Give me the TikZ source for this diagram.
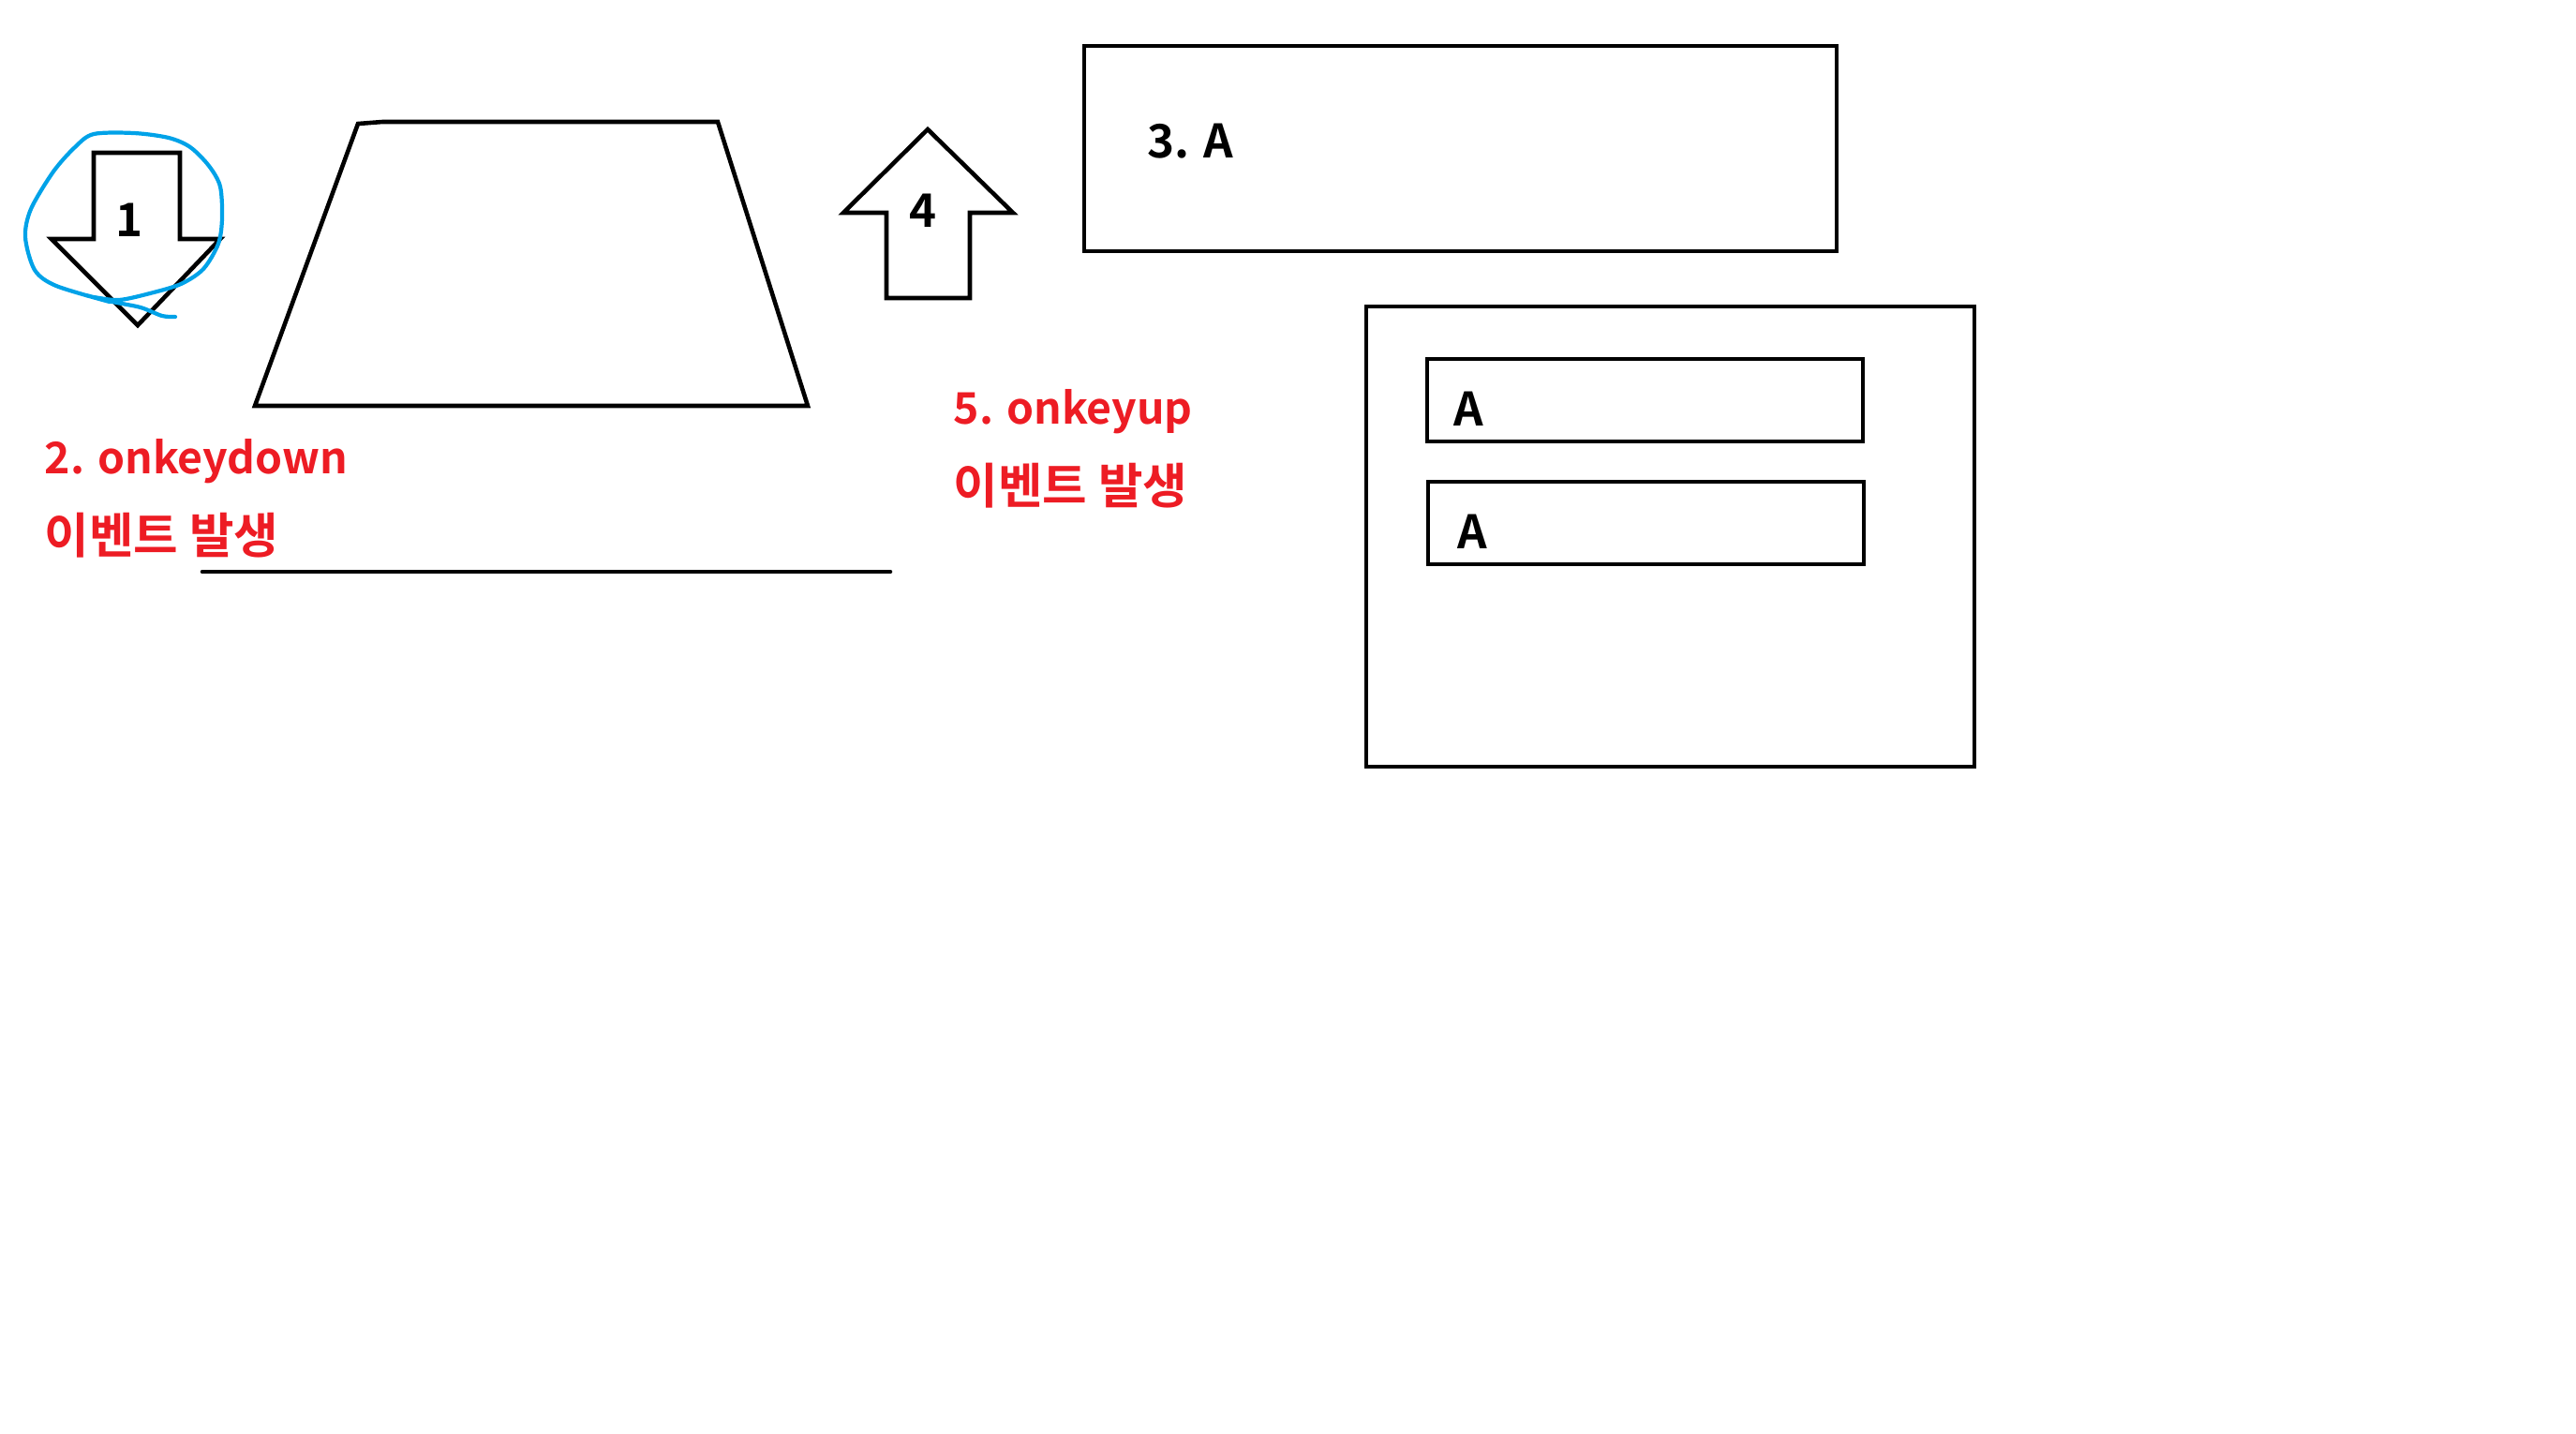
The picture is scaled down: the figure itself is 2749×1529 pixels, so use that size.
\documentclass[tikz,border=0pt]{standalone}
\usepackage{fontspec}
\setmainfont{Noto Sans CJK KR}[BoldFont={Noto Sans CJK KR Bold}]
\usetikzlibrary{positioning}
\definecolor{paintred}{HTML}{ED1C24}
\definecolor{paintblue}{HTML}{00A2E8}

\begin{document}
\begin{tikzpicture}
[x=0.01cm,y=-0.01cm,
outline/.style={draw=black,line width=1.3pt},
pen/.style={draw=paintblue,line width=1.2pt,line cap=round,line join=round},
redtxt/.style={text=paintred,font=\bfseries\fontsize{13.2}{16}\selectfont,inner sep=0pt,anchor=base west},
redkr/.style={redtxt,font=\bfseries\fontsize{14.7}{16}\selectfont},
blktxt/.style={text=black,font=\bfseries\fontsize{14}{16}\selectfont,inner sep=0pt}]
%%
\useasboundingbox (0,0) rectangle (2749,1529);
%% key down arrow
\draw[outline] (100,163) -- (192,163) -- (192,255) -- (235,255) -- (147,347)
  -- (55,255) -- (100,255) -- cycle;
\node (n1) [blktxt,anchor=base] at (138,252) {1};
\draw[pen] plot[smooth] coordinates {(117,322) (60,305) (37,288) (27,253) (33,223)
  (57,183) (80,157) (100,143) (143,142) (180,147) (203,157) (223,177) (235,199)
  (237,233) (233,260) (217,287) (193,303) (160,313) (127,320) (100,317) (92,315)
  (120,322) (150,328) (173,337) (187,338)};
%% key
\draw[outline] (272,433) -- (382,132) -- (408,130) -- (766,130) -- (862,433) -- cycle;
\node (down1) [redtxt] at (47,505) {2. onkeydown};
\node (down2) [redkr] at (47,590) {이벤트 발생};
\draw[outline,line cap=round] (216,610) -- (950,610);
%% key up arrow
\draw[outline] (946,318) -- (946,227) -- (900,227) -- (990,138) -- (1081,227)
  -- (1035,227) -- (1035,318) -- cycle;
\node (n4) [blktxt,anchor=base] at (985,242) {4};
\node (up1) [redtxt] at (1017,452) {5. onkeyup};
\node (up2) [redkr] at (1017,537) {이벤트 발생};
%% input
\draw[outline] (1157,49) rectangle (1960,268);
\node (in) [blktxt,anchor=base west] at (1224,168) {3. A};
%% output
\draw[outline] (1458,327) rectangle (2107,818);
\draw[outline] (1523,383) rectangle (1988,471);
\draw[outline] (1524,514) rectangle (1989,602);
\node (out1) [blktxt,anchor=base west] at (1551,454) {A};
\node (out2) [blktxt,anchor=base west] at (1555,585) {A};
%%
\end{tikzpicture}
\end{document}
